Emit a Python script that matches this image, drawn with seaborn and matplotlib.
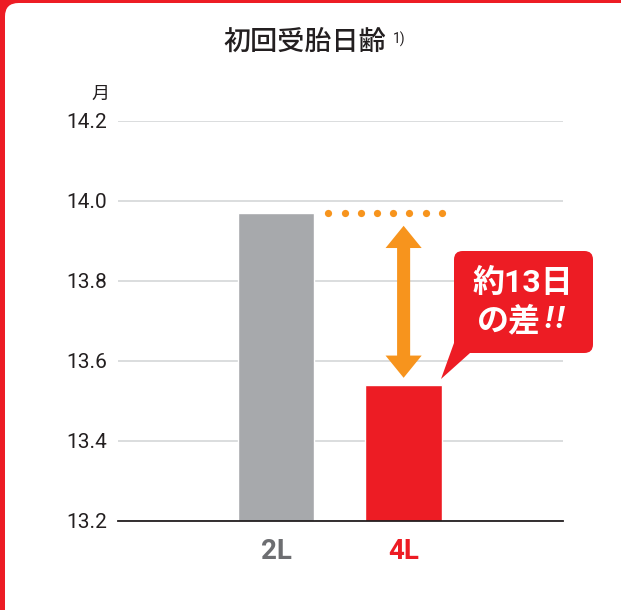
import numpy as np
import matplotlib
matplotlib.use("Agg")
import matplotlib.pyplot as plt
from matplotlib.patches import FancyBboxPatch, FancyArrowPatch, Polygon
import seaborn as sns

# ==============================
# Data
# ==============================
groups = ["2L", "4L"]
age_months = [13.97, 13.54]
y_ticks = [13.2, 13.4, 13.6, 13.8, 14.0, 14.2]
title = "初回受胎日齢"
title_note = "1)"
unit = "月"
callout_line1 = "約13日"
callout_line2 = "の差"

# colours
gray = "#A7A9AC"
red = "#ED1C24"
orange = "#F7941D"
ink = "#231F20"
label_colors = ["#6D6E71", red]

sns.set_theme(style="white")
plt.rcParams["font.family"] = ["Roboto", "Noto Sans CJK JP", "DejaVu Sans"]

W, H = 621, 610
fig = plt.figure(figsize=(W / 100, H / 100), dpi=100)
fig.patch.set_facecolor(red)


def fx(x):
    return x / W


def fy(y):
    return 1 - y / H


# white card with rounded corner on the red frame
card = FancyBboxPatch((fx(5), -0.2), 1.3, fy(3) + 0.2,
                      boxstyle="round,pad=0,rounding_size=0.022",
                      transform=fig.transFigure, fc="white", ec="none", zorder=-10)
fig.add_artist(card)

ax = fig.add_axes([fx(118), fy(521), (563 - 118) / W, 400 / H])
ax.set_facecolor("none")

bar_w = 0.6
sns.barplot(x=groups, y=age_months, hue=groups, palette=[gray, red],
            width=bar_w, saturation=1, legend=False, ax=ax)

ax.set_xlim(-1.24, 2.25)
ax.set_ylim(y_ticks[0], y_ticks[-1])
ax.set_yticks(y_ticks)
ax.set_yticklabels([f"{t:.1f}" for t in y_ticks])
ax.set_xlabel("")
ax.set_ylabel("")
ax.yaxis.grid(True, color="#D1D3D4", lw=1.1)
ax.set_axisbelow(True)
for s in ["top", "right", "left"]:
    ax.spines[s].set_visible(False)
ax.spines["bottom"].set_color(ink)
ax.spines["bottom"].set_linewidth(1.3)
ax.tick_params(axis="both", length=0)
ax.tick_params(axis="y", labelsize=15, labelcolor=ink, pad=8)
ax.tick_params(axis="x", labelsize=20, pad=12)
for lab, c in zip(ax.get_xticklabels(), label_colors):
    lab.set_color(c)
    lab.set_fontweight("bold")

# dotted line at the 2L level
ax.plot(np.linspace(bar_w / 2 + 0.11, 1 + bar_w / 2, 8), [age_months[0]] * 8,
        "o", color=orange, ms=5.2, mec="none", zorder=3)

# double-headed arrow showing the gap
mid = (age_months[0] + age_months[1]) / 2
for tip in [age_months[0] - 0.032, age_months[1] + 0.018]:
    ax.add_patch(FancyArrowPatch((1, mid), (1, tip),
                                 arrowstyle="simple,head_length=16,head_width=26,tail_width=9.4",
                                 mutation_scale=1, shrinkA=0, shrinkB=0,
                                 color=orange, lw=0, zorder=3))

# callout bubble
bubble = FancyBboxPatch((fx(454), fy(353)), 139 / W, 102 / H,
                        boxstyle="round,pad=0,rounding_size=0.014",
                        transform=fig.transFigure, fc=red, ec="none")
fig.add_artist(bubble)
tail = Polygon([(fx(454), fy(343)), (fx(470), fy(353)), (fx(441), fy(379))],
               closed=True, transform=fig.transFigure, fc=red, ec="none")
fig.add_artist(tail)
fig.text(fx(523), fy(283), callout_line1, ha="center", va="center",
         fontsize=23, fontweight="bold", color="white")
fig.text(fx(541), fy(321), callout_line2, ha="right", va="center",
         fontsize=23, fontweight="bold", color="white")
for bx in [544, 555]:
    fig.text(fx(bx), fy(320), "!", ha="left", va="center",
             fontsize=23, fontweight="bold", fontstyle="italic", color="white")

# title and unit
fig.text(fx(305), fy(42), title, ha="center", va="center", fontsize=19.5,
         fontweight="medium", color=ink)
fig.text(fx(393), fy(39), title_note, ha="left", va="center", fontsize=10, color=ink)
fig.text(fx(100), fy(94), unit, ha="center", va="center", fontsize=13, color=ink)

fig.savefig("out.png", dpi=100, facecolor=fig.get_facecolor())
